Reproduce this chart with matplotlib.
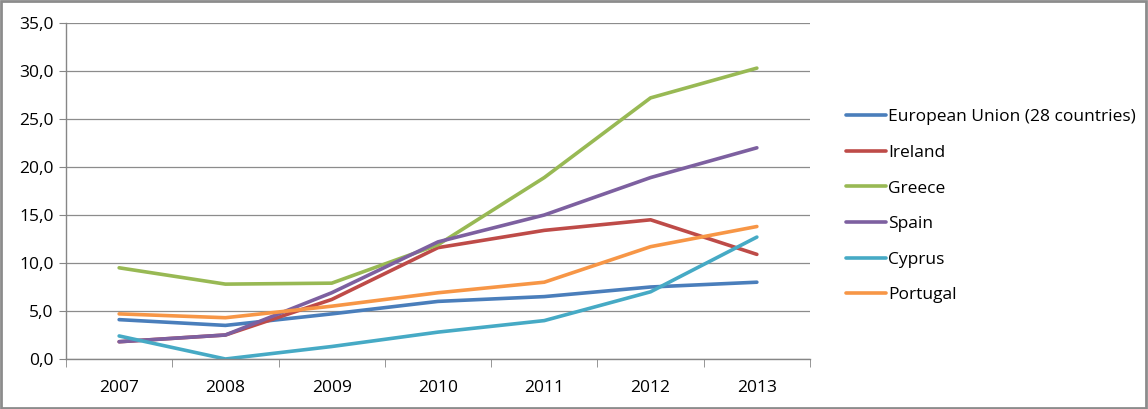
import matplotlib
matplotlib.use("Agg")
from matplotlib import pyplot as plt
from matplotlib.patches import Rectangle
import numpy as np

years = ['2007', '2008', '2009', '2010', '2011', '2012', '2013']
eu = [4.1, 3.5, 4.7, 6.0, 6.5, 7.5, 8.0]
ireland = [1.8, 2.5, 6.2, 11.6, 13.4, 14.5, 10.9]
greece = [9.5, 7.8, 7.9, 11.9, 18.9, 27.2, 30.3]
spain = [1.8, 2.5, 6.9, 12.2, 15.0, 18.9, 22.0]
cyprus = [2.4, 0.0, 1.3, 2.8, 4.0, 7.0, 12.7]
portugal = [4.7, 4.3, 5.5, 6.9, 8.0, 11.7, 13.8]

series = [
    ('European Union (28 countries)', eu, '#4A7EBB'),
    ('Ireland', ireland, '#BE4B48'),
    ('Greece', greece, '#98B954'),
    ('Spain', spain, '#7D60A0'),
    ('Cyprus', cyprus, '#46AAC5'),
    ('Portugal', portugal, '#F79646'),
]

plt.rcParams['font.family'] = ['Open Sans', 'DejaVu Sans']

fig = plt.figure(figsize=(11.48, 4.09), dpi=100)
ax = fig.add_axes([66 / 1148, 1 - 359 / 409, (810 - 66) / 1148, (359 - 23) / 409])

x = np.arange(len(years))
for name, vals, col in series:
    ax.plot(x, vals, color=col, lw=2.6, label=name, solid_capstyle='round')

ax.set_xlim(-0.5, len(years) - 0.5)
ax.set_ylim(0, 35)
ax.set_yticks(np.arange(0, 36, 5))
ax.set_yticklabels([f'{v:.1f}'.replace('.', ',') for v in np.arange(0, 36, 5)])
ax.set_xticks(x)
ax.set_xticklabels(years)
ax.set_xticks(np.arange(-0.5, len(years), 1), minor=True)
ax.tick_params(axis='x', which='major', length=0, pad=15, labelsize=12.5, colors='#000000')
ax.tick_params(axis='x', which='minor', length=6, color='#868686', direction='out')
ax.tick_params(axis='y', length=5, color='#868686', labelsize=12.5, pad=4)
ax.grid(axis='y', color='#8c8c8c', lw=0.9)
ax.set_axisbelow(True)
for s in ['top', 'right']:
    ax.spines[s].set_visible(False)
for s in ['left', 'bottom']:
    ax.spines[s].set_color('#868686')
    ax.spines[s].set_linewidth(1.0)

leg = ax.legend(loc='upper left', bbox_to_anchor=(1.027, 0.79), frameon=False,
                fontsize=12.5, handlelength=2.3, handletextpad=0.15, labelspacing=1.12)
for line in leg.get_lines():
    line.set_linewidth(2.6)

fig.patches.append(Rectangle((0.001, 0.002), 0.997, 0.995, transform=fig.transFigure,
                             fill=False, edgecolor='#8c8c8c', lw=2))

fig.savefig('out.png', dpi=100)
